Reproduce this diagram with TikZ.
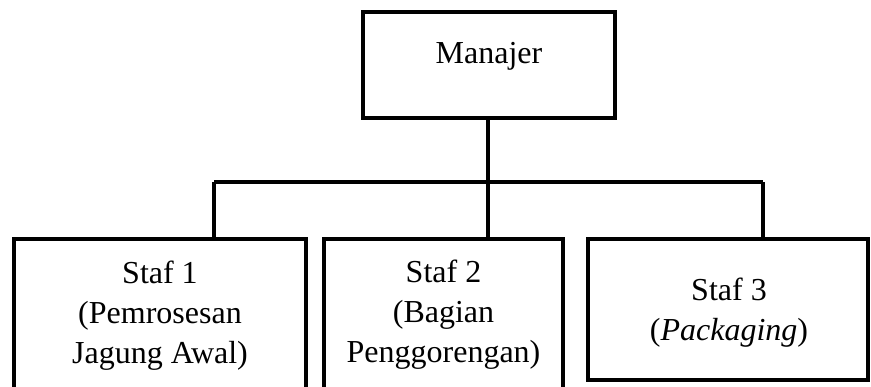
\documentclass[tikz,border=0pt]{standalone}
\usepackage{fontspec}
\setmainfont{Liberation Serif}
\begin{document}
\begin{tikzpicture}[x=0.5pt,y=-0.5pt,
  box/.style={draw=black,line width=2pt,rectangle,inner sep=0pt},
  lbl/.style={align=center,font=\fontsize{16}{19.8}\selectfont,inner sep=0pt},
  conn/.style={draw=black,line width=1.6pt}]
\useasboundingbox (0,0) rectangle (871,386);
\begin{scope}
\clip (0,0) rectangle (871,386);
% boxes
\node[box,minimum width=126pt,minimum height=53pt] (man) at (489,65) {};
\node[box,minimum width=146pt,minimum height=90pt] (s1) at (160,329) {};
\node[box,minimum width=119.5pt,minimum height=90pt] (s2) at (443.5,329) {};
\node[box,minimum width=140pt,minimum height=70.5pt] (s3) at (728,309.5) {};
\end{scope}
% labels (anchor=base is the baseline of the last line)
\node[lbl,anchor=base] (tman) at (489,63) {Manajer};
\node[lbl,anchor=base] (t1) at (160,363) {Staf 1\\(Pemrosesan\\Jagung Awal)};
\node[lbl,anchor=base] (t2) at (443.5,362) {Staf 2\\(Bagian\\Penggorengan)};
\node[lbl,anchor=base] (t3) at (729,340) {Staf 3\\(\textit{Packaging})};
% connectors
\coordinate (j1) at (214,182);
\coordinate (j2) at (488,182);
\coordinate (j3) at (763,182);
\draw[conn] (j1) -- (j3);
\draw[conn] (man.south -| j2) -- (j2);
\draw[conn] (j1) -- (j1 |- s1.north);
\draw[conn] (j2) -- (j2 |- s2.north);
\draw[conn] (j3) -- (j3 |- s3.north);
\end{tikzpicture}
\end{document}
